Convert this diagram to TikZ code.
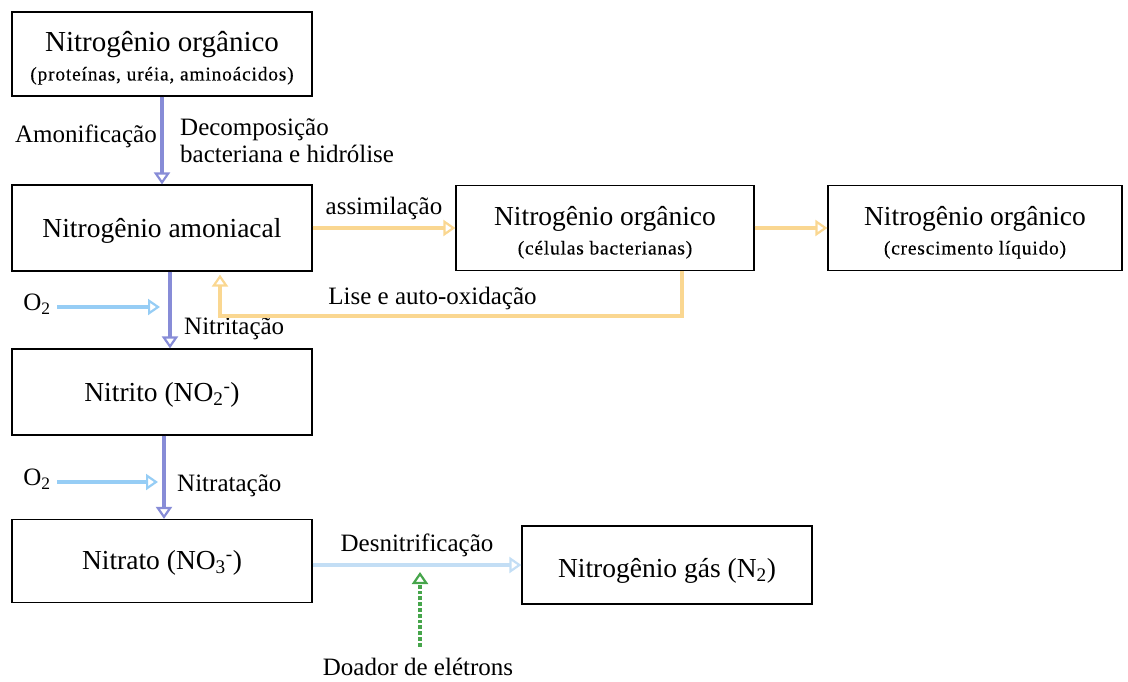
\documentclass[tikz,border=0pt]{standalone}
\usepackage{fontspec}
\setmainfont{Liberation Serif}
\usetikzlibrary{arrows.meta,positioning,calc}

\definecolor{violeta}{RGB}{135,140,215}
\definecolor{celeste}{RGB}{150,205,245}
\definecolor{laranja}{RGB}{250,215,145}
\definecolor{gelo}{RGB}{195,222,245}
\definecolor{verde}{RGB}{70,165,75}

\newcommand{\grande}{\fontsize{27.5}{30}\selectfont}
\newcommand{\pequeno}{\fontsize{19.5}{22}\selectfont\addfontfeature{LetterSpace=4,FakeBold=0.3}}
\newcommand{\rotulo}{\fontsize{25}{26.5}\selectfont}
% texto da caixa, um pouco abaixo do centro
\newcommand{\baixo}[2][5pt]{\raisebox{-#1}[\height][\depth]{#2}}
\newcommand{\duas}[2]{\baixo[6pt]{\begin{tabular}{@{}c@{}}#1\\[-1pt]{\pequeno #2}\end{tabular}}}

\tikzset{
	caixa/.style={draw, line width=1.2pt, minimum width=300pt, minimum height=86pt, inner sep=0pt, align=center, font=\grande},
	seta/.style={line width=3.8pt, -{Triangle[open,length=12pt,width=16pt,line width=2.2pt]}},
	rot/.style={font=\rotulo, text=black}
}

\begin{document}
\begin{tikzpicture}[x=1pt,y=-1pt]
	\useasboundingbox (0,0) rectangle (1128,682);
	% caixas
	\node[caixa, minimum height=84pt] (orgN) at (162,54) {\duas{\fontsize{29}{30}\selectfont Nitrogênio orgânico}{(proteínas, uréia, aminoácidos)}};
	\node[caixa] (amon) at (162,228) {\baixo[3pt]{Nitrogênio amoniacal}};
	\node[caixa, minimum width=298pt, minimum height=85pt] (celN) at (605,228) {\duas{Nitrogênio orgânico}{(células bacterianas)}};
	\node[caixa, minimum width=294pt, minimum height=85pt] (liqN) at (975,228) {\duas{Nitrogênio orgânico}{(crescimento líquido)}};
	\node[caixa] (nitrito) at (162,392) {\baixo[3pt]{Nitrito (NO\textsubscript{2}\textsuperscript{-})}};
	\node[caixa, minimum height=83pt] (nitrato) at (162,561) {\baixo[2pt]{Nitrato (NO\textsubscript{3}\textsuperscript{-})}};
	\node[caixa, minimum width=290pt, minimum height=78pt] (gas) at (667,565) {\baixo[6pt]{Nitrogênio gás (N\textsubscript{2})}};
	\node[rot] (o2a) at (37,304) {O\textsubscript{2}};
	\node[rot] (o2b) at (37,479) {O\textsubscript{2}};
	\node[rot] (doador) at (418,667) {Doador de elétrons};
	\coordinate (o2aF) at (160,307);
	\coordinate (o2bF) at (158,482);
	\coordinate (doadorF) at (420,572);
	\coordinate (liseA) at ($(celN.south)+(77,0)$);
	\coordinate (liseB) at ($(amon.south)+(58,0)$);
	% setas
	\draw[seta, violeta] (orgN.south) -- node[rot, pos=.45, left=0pt] (amonif) {Amonificação}
		node[rot, right=13pt, align=left] (decomp) {Decomposição\\bacteriana e hidrólise} (amon.north);
	\draw[seta, violeta] ([xshift=8pt]amon.south) -- node[rot, pos=.75, right=9pt] (nitrit) {Nitritação} ([xshift=8pt]nitrito.north);
	\draw[seta, violeta] ([xshift=2pt]nitrito.south) -- node[rot, pos=.6, right=8pt] (nitrat) {Nitratação} ([xshift=2pt]nitrato.north);
	\draw[seta, celeste, shorten <=3pt] (o2aF -| o2a.east) -- (o2aF);
	\draw[seta, celeste, shorten <=3pt] (o2bF -| o2b.east) -- (o2bF);
	\draw[seta, laranja] (amon.east) -- node[rot, above=3pt] (assim) {assimilação} (celN.west);
	\draw[seta, laranja] (celN.east) -- (liqN.west);
	\draw[seta, laranja] (liseA) -- ++(0,45) -| node[rot, pos=.27, above=1pt] (lise) {Lise e auto-oxidação} ([yshift=-3pt]liseB);
	\draw[seta, gelo] (gas.west -| nitrato.east) -- node[rot, above=3pt] (desnit) {Desnitrificação} (gas.west);
	\draw[seta, verde, dotted, shorten <=8pt] (doador.north -| doadorF) -- (doadorF);
\end{tikzpicture}
\end{document}
